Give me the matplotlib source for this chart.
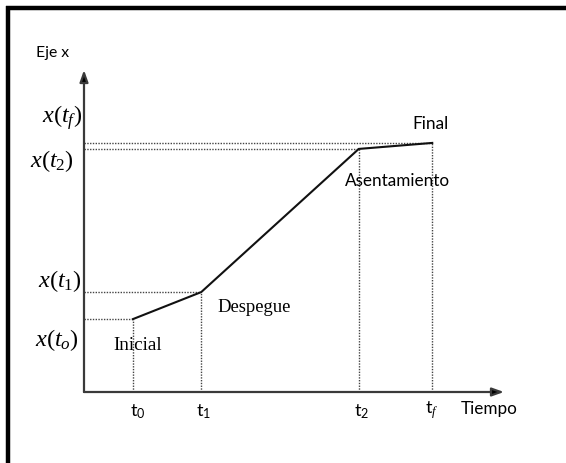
import matplotlib.pyplot as plt
from matplotlib.lines import Line2D

# phase break points (arbitrary units, schematic)
t_names = [r"$\mathregular{t_0}$", r"$\mathregular{t_1}$", r"$\mathregular{t_2}$", r"$\mathregular{t_{\mathit{f}}}$"]
t_vals = [1.4, 3.35, 7.85, 9.95]
x_vals = [2.43, 3.33, 8.1, 8.3]
x_names = [r"$x(t_o)$", r"$x(t_1)$", r"$x(t_2)$", r"$x(t_f)$"]
phases = ["Inicial", "Despegue", "Asentamiento", "Final"]

W, H = 566, 463

plt.rcParams["mathtext.fontset"] = "custom"
plt.rcParams["mathtext.rm"] = "Liberation Serif"
plt.rcParams["mathtext.it"] = "Liberation Serif:italic"


def px(x, y):
    return x / W, 1 - y / H


fig = plt.figure(figsize=(W / 100, H / 100), dpi=100)
ax = fig.add_axes([84 / W, 71 / H, 420 / W, 322 / H])
ax.set_xlim(0, 12)
ax.set_ylim(0, 10.73)
ax.axis("off")

# axes with arrows
for end in [(1, 0), (0, 1)]:
    ax.annotate("", xy=end, xytext=(0, 0), xycoords="axes fraction",
                arrowprops=dict(arrowstyle="-|>,head_length=0.7,head_width=0.25",
                                color="#3a3a3a", lw=1.6, shrinkA=0, shrinkB=0,
                                fc="black"))

# guide lines
for i, (t, x) in enumerate(zip(t_vals, x_vals)):
    ax.plot([0, t], [x, x], ls=(0, (1, 1)), color="#444444", lw=1.0)
    ax.plot([t, t], [0, x], ls=(0, (1, 1)), color="#444444", lw=1.0)

ax.plot(t_vals, x_vals, color="#111111", lw=1.5, solid_joinstyle="miter")

# frame fragments (top and left only)
fig.add_artist(Line2D([6 / W, 1], [1 - 8 / H, 1 - 8 / H], color="black", lw=3.2,
                      solid_capstyle="butt"))
fig.add_artist(Line2D([7.5 / W, 7.5 / W], [0, 1 - 6 / H], color="black", lw=3.2,
                      solid_capstyle="butt"))

sans = "Lato"
serif = "Liberation Serif"

fig.text(*px(53, 53), "Eje x", family=sans, fontsize=11.3, ha="center", va="center")
fig.text(*px(489, 409), "Tiempo", family=sans, fontsize=12.3, ha="center", va="center")

# y labels
y_lab_pos = [(79, 340), (82, 281), (74, 161), (82, 118)]
for name, (lx, ly) in zip(x_names, y_lab_pos):
    fig.text(*px(lx, ly), name, fontsize=17.5, ha="right", va="center")

# t labels
t_lab_pos = [(138, 412), (204, 412), (362, 412), (432, 410)]
for name, (lx, ly) in zip(t_names, t_lab_pos):
    fig.text(*px(lx, ly), name, family=sans, fontsize=13, ha="center", va="center")

# phase labels
phase_pos = [(138, 345), (254, 308), (398, 181), (430, 124)]
phase_fonts = [serif, serif, sans, sans]
phase_size = [13.8, 13.4, 12.3, 12.4]
for name, (lx, ly), fam, fs in zip(phases, phase_pos, phase_fonts, phase_size):
    fig.text(*px(lx, ly), name, family=fam, fontsize=fs, ha="center", va="center")

fig.savefig("out.png", dpi=100)
